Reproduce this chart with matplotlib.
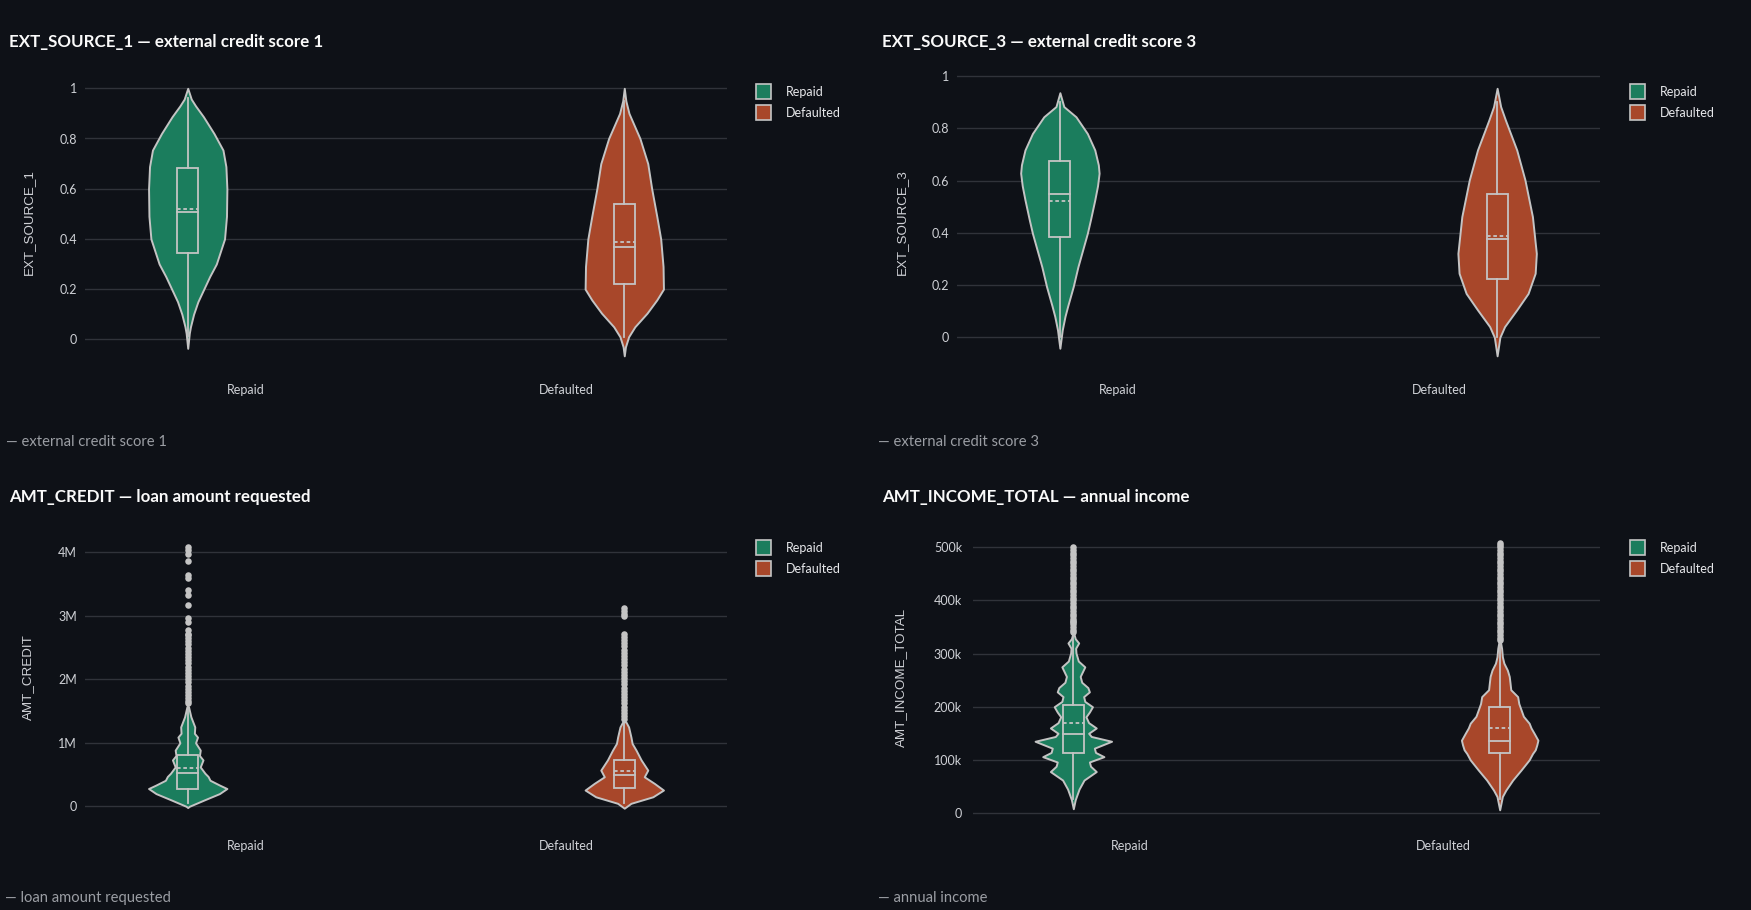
import numpy as np
import matplotlib
matplotlib.use('Agg')
import matplotlib.pyplot as plt
from matplotlib.patches import Rectangle

# ---- data ----
groups = ['Repaid', 'Defaulted']

# EXT_SOURCE_1: violin outline (value, relative half-width)
ext1_rep_vals = [-0.036, 0.024, 0.05, 0.10, 0.15, 0.20, 0.25, 0.30, 0.40, 0.49, 0.60, 0.688, 0.754, 0.82, 0.887, 0.93, 0.957, 1.0]
ext1_rep_dens = [0.0, 0.04, 0.07, 0.15, 0.26, 0.41, 0.56, 0.73, 0.94, 0.99, 1.0, 0.975, 0.90, 0.67, 0.40, 0.2, 0.09, 0.0]
ext1_def_vals = [-0.066, -0.03, 0.01, 0.05, 0.104, 0.157, 0.20, 0.29, 0.40, 0.49, 0.60, 0.70, 0.80, 0.90, 0.95, 1.0]
ext1_def_dens = [0.0, 0.03, 0.11, 0.27, 0.58, 0.83, 1.0, 0.99, 0.93, 0.83, 0.70, 0.60, 0.40, 0.12, 0.04, 0.0]
# box stats: lower whisker, q1, median, mean, q3, upper whisker
ext1_rep_box = [0.015, 0.343, 0.507, 0.518, 0.681, 0.96]
ext1_def_box = [0.01, 0.220, 0.367, 0.389, 0.539, 0.95]

# EXT_SOURCE_3
ext3_rep_vals = [-0.042, 0.028, 0.08, 0.12, 0.194, 0.27, 0.398, 0.45, 0.526, 0.58, 0.628, 0.66, 0.717, 0.78, 0.844, 0.883, 0.936]
ext3_rep_dens = [0.0, 0.06, 0.13, 0.2, 0.34, 0.46, 0.70, 0.78, 0.89, 0.96, 1.0, 0.98, 0.89, 0.70, 0.41, 0.10, 0.0]
ext3_def_vals = [-0.071, 0.0, 0.041, 0.105, 0.168, 0.245, 0.321, 0.462, 0.602, 0.717, 0.832, 0.883, 0.953]
ext3_def_dens = [0.0, 0.07, 0.19, 0.5, 0.79, 0.97, 1.0, 0.9, 0.71, 0.5, 0.21, 0.09, 0.0]
ext3_rep_box = [0.0, 0.384, 0.547, 0.522, 0.676, 0.90]
ext3_def_box = [0.0, 0.222, 0.375, 0.389, 0.547, 0.90]

# AMT_CREDIT (millions)
cred_rep_vals = [-0.02, 0.0, 0.1, 0.2, 0.28, 0.335, 0.41, 0.47, 0.52, 0.62, 0.73, 0.8, 0.885, 1.0, 1.09, 1.15, 1.25, 1.41, 1.57]
cred_rep_dens = [0.0, 0.04, 0.42, 0.81, 1.0, 0.81, 0.57, 0.52, 0.44, 0.32, 0.39, 0.30, 0.32, 0.2, 0.25, 0.17, 0.18, 0.08, 0.02]
cred_def_vals = [-0.03, 0.047, 0.15, 0.256, 0.36, 0.465, 0.57, 0.73, 0.885, 0.99, 1.09, 1.25, 1.33]
cred_def_dens = [0.0, 0.17, 0.73, 1.0, 0.77, 0.51, 0.6, 0.43, 0.3, 0.2, 0.17, 0.11, 0.04]
cred_rep_box = [0.045, 0.270, 0.518, 0.603, 0.809, 1.60]
cred_def_box = [0.045, 0.284, 0.4975, 0.558, 0.733, 1.35]
cred_rep_out = [1.62, 1.66, 1.70, 1.75, 1.80, 1.85, 1.90, 1.95, 2.00, 2.05, 2.10, 2.15, 2.20, 2.25,
                2.30, 2.35, 2.40, 2.45, 2.50, 2.55, 2.60, 2.65, 2.69, 2.72, 2.77, 2.90, 2.96, 3.17,
                3.33, 3.41, 3.59, 3.64, 3.87, 3.98, 4.03, 4.08]
cred_def_out = [1.38, 1.42, 1.47, 1.52, 1.57, 1.62, 1.67, 1.72, 1.77, 1.82, 1.87, 1.92, 1.97, 2.02,
                2.07, 2.12, 2.17, 2.22, 2.27, 2.32, 2.37, 2.42, 2.46, 2.52, 2.57, 2.62, 2.67, 2.72,
                3.00, 3.03, 3.08, 3.12]

# AMT_INCOME_TOTAL (thousands)
inc_rep_vals = [8, 25, 45, 62, 78, 88, 96, 106, 114, 122, 135, 144, 150, 160, 170, 181, 190, 200, 210,
                219, 228, 236, 246, 257, 266, 275, 286, 301, 310, 320, 328, 336]
inc_rep_dens = [0.0, 0.05, 0.15, 0.28, 0.60, 0.45, 0.42, 0.80, 0.58, 0.55, 1.0, 0.47, 0.40, 0.60, 0.40,
                0.33, 0.42, 0.50, 0.30, 0.27, 0.42, 0.38, 0.22, 0.18, 0.24, 0.30, 0.13, 0.07, 0.06, 0.14,
                0.05, 0.02]
inc_def_vals = [6, 31, 43, 62, 81, 100, 112, 119, 128, 137, 150, 160, 169, 182, 194, 206, 219, 232, 245,
                257, 269, 282, 294, 310, 322]
inc_def_dens = [0.0, 0.07, 0.16, 0.34, 0.56, 0.77, 0.86, 0.93, 0.97, 1.0, 0.9, 0.82, 0.77, 0.62, 0.56,
                0.5, 0.47, 0.29, 0.27, 0.25, 0.2, 0.11, 0.07, 0.05, 0.02]
inc_rep_box = [25.6, 112.5, 148.5, 169.0, 202.5, 337.0]
inc_def_box = [25.6, 112.5, 135.0, 160.0, 200.0, 322.0]
inc_rep_out = [340, 345, 350, 355, 360, 362, 365, 370, 375, 380, 385, 390, 395, 400, 405, 410, 415, 420,
               425, 430, 435, 440, 445, 450, 455, 460, 465, 470, 475, 480, 485, 490, 495, 500]
inc_def_out = [325, 330, 335, 340, 345, 350, 355, 360, 365, 370, 375, 380, 385, 390, 395, 400, 405, 410,
               415, 420, 425, 430, 435, 440, 445, 450, 455, 460, 465, 470, 475, 480, 485, 490, 495, 500,
               504, 508]

ext_ticks = [0, 0.2, 0.4, 0.6, 0.8, 1]
ext_labels = ['0', '0.2', '0.4', '0.6', '0.8', '1']
cred_ticks = [0, 1, 2, 3, 4]
cred_labels = ['0', '1M', '2M', '3M', '4M']
inc_ticks = [0, 100, 200, 300, 400, 500]
inc_labels = ['0', '100k', '200k', '300k', '400k', '500k']

# ---- style ----
BG = '#0e1117'
GRID = '#30333a'
LINE = '#c4c4c4'
TICK = '#cfd1d6'
COLORS = ['#1b7d5d', '#a8472a']
MAX_HALF = 0.122
BOX_HALF = 0.033
OFFSET = 0.18

plt.rcParams['font.family'] = ['Lato', 'DejaVu Sans']

W, H = 1751, 910
fig = plt.figure(figsize=(W / 100, H / 100), dpi=100, facecolor=BG)


def px_box(x0, y0, x1, y1):
    return [x0 / W, 1 - y1 / H, (x1 - x0) / W, (y1 - y0) / H]


def draw_violin(ax, pos, vals, dens, color, box, outliers=None):
    half = np.array(dens) * MAX_HALF
    ax.fill_betweenx(vals, pos - half, pos + half, facecolor=color, edgecolor=LINE,
                     linewidth=1.4, zorder=2)
    lo, q1, med, mean, q3, hi = box
    ax.plot([pos, pos], [lo, q1], color=LINE, lw=1.3, zorder=3)
    ax.plot([pos, pos], [q3, hi], color=LINE, lw=1.3, zorder=3)
    ax.add_patch(Rectangle((pos - BOX_HALF, q1), 2 * BOX_HALF, q3 - q1, fill=False,
                           edgecolor=LINE, lw=1.3, zorder=3))
    ax.plot([pos - BOX_HALF, pos + BOX_HALF], [med, med], color=LINE, lw=1.3, zorder=3)
    ax.plot([pos - BOX_HALF, pos + BOX_HALF], [mean, mean], color=LINE, lw=1.3,
            ls=(0, (2, 1.5)), zorder=3)
    if outliers:
        ax.scatter([pos] * len(outliers), outliers, s=22, color=LINE, linewidths=0, zorder=4)


panels = [
    dict(title='EXT_SOURCE_1 — external credit score 1', ylabel='EXT_SOURCE_1',
         caption='— external credit score 1', rect=(85, 60, 727, 374), ref=(0, 339.3, 1, 88.3),
         ticks=ext_ticks, labels=ext_labels, ypad=8,
         violins=[(ext1_rep_vals, ext1_rep_dens, ext1_rep_box, None),
                  (ext1_def_vals, ext1_def_dens, ext1_def_box, None)],
         title_xy=(9, 42), ylab_xy=(29, 222), cap_xy=(6, 442), leg_xy=(756, 84)),
    dict(title='EXT_SOURCE_3 — external credit score 3', ylabel='EXT_SOURCE_3',
         caption='— external credit score 3', rect=(957, 60, 1600, 374), ref=(0, 337.3, 1, 76),
         ticks=ext_ticks, labels=ext_labels, ypad=8,
         violins=[(ext3_rep_vals, ext3_rep_dens, ext3_rep_box, None),
                  (ext3_def_vals, ext3_def_dens, ext3_def_box, None)],
         title_xy=(882, 42), ylab_xy=(902, 222), cap_xy=(878, 442), leg_xy=(1630, 84)),
    dict(title='AMT_CREDIT — loan amount requested', ylabel='AMT_CREDIT',
         caption='— loan amount requested', rect=(85, 520, 727, 830), ref=(0, 806.3, 4, 552.3),
         ticks=cred_ticks, labels=cred_labels, ypad=8,
         violins=[(cred_rep_vals, cred_rep_dens, cred_rep_box, cred_rep_out),
                  (cred_def_vals, cred_def_dens, cred_def_box, cred_def_out)],
         title_xy=(9, 497), ylab_xy=(28, 677), cap_xy=(5, 898), leg_xy=(756, 540)),
    dict(title='AMT_INCOME_TOTAL — annual income', ylabel='AMT_INCOME_TOTAL',
         caption='— annual income', rect=(973, 520, 1600, 830), ref=(0, 813, 500, 547.3),
         ticks=inc_ticks, labels=inc_labels, ypad=11,
         violins=[(inc_rep_vals, inc_rep_dens, inc_rep_box, inc_rep_out),
                  (inc_def_vals, inc_def_dens, inc_def_box, inc_def_out)],
         title_xy=(882, 497), ylab_xy=(901, 677), cap_xy=(878, 898), leg_xy=(1630, 540)),
]

for p in panels:
    x0, y0, x1, y1 = p['rect']
    ax = fig.add_axes(px_box(x0, y0, x1, y1))
    ax.set_facecolor(BG)
    v0, p0, v1, p1 = p['ref']
    scale = (p0 - p1) / (v1 - v0)
    ax.set_ylim(v0 + (p0 - y1) / scale, v0 + (p0 - y0) / scale)
    ax.set_xlim(-0.5, 1.5)

    for i, (vals, dens, box, outl) in enumerate(p['violins']):
        pos = i - OFFSET if i == 0 else i + OFFSET
        draw_violin(ax, pos, vals, dens, COLORS[i], box, outl)

    ax.set_yticks(p['ticks'])
    ax.set_yticklabels(p['labels'])
    ax.set_xticks([0, 1])
    ax.set_xticklabels(groups)
    ax.tick_params(axis='y', length=0, pad=p['ypad'] * 0.72, labelsize=9, labelcolor=TICK)
    ax.tick_params(axis='x', length=0, pad=7, labelsize=9, labelcolor=TICK)
    ax.grid(axis='y', color=GRID, lw=1.0, zorder=0)
    for s in ax.spines.values():
        s.set_visible(False)

    tx, ty = p['title_xy']
    fig.text(tx / W, 1 - ty / H, p['title'], color='#fafafa', fontsize=12.2,
             fontweight='bold', va='center', ha='left')
    lx, ly = p['ylab_xy']
    fig.text(lx / W, 1 - ly / H, p['ylabel'], color=TICK, fontsize=9.6, rotation=90,
             va='center', ha='center', family=['Liberation Sans', 'DejaVu Sans'])
    cx, cy = p['cap_xy']
    fig.text(cx / W, 1 - cy / H, p['caption'], color='#9b9ea4', fontsize=10.6,
             va='center', ha='left')

    # legend
    gx, gy = p['leg_xy']
    for k, name in enumerate(groups):
        top = gy + k * 21
        fig.add_artist(Rectangle((gx / W, 1 - (top + 15) / H), 15 / W, 15 / H,
                                 transform=fig.transFigure, facecolor=COLORS[k],
                                 edgecolor=LINE, lw=1.2))
        fig.text((gx + 30) / W, 1 - (top + 8) / H, name, color='#e6e7ea', fontsize=9,
                 va='center', ha='left')

fig.savefig('out.png', dpi=100, facecolor=BG)
